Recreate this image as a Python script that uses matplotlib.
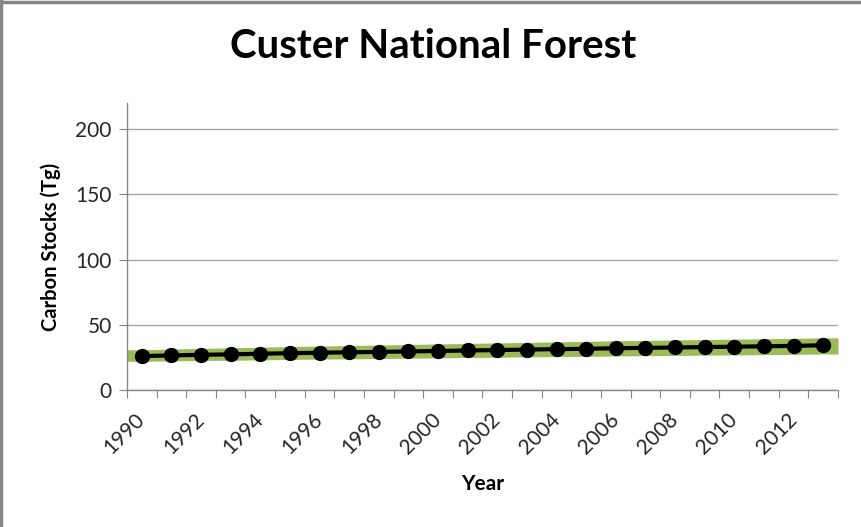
import matplotlib
matplotlib.use("Agg")
import matplotlib.pyplot as plt
from matplotlib.lines import Line2D

years = list(range(1990, 2014))
carbon = [26.0, 26.5, 27.0, 27.3, 27.8, 28.2, 28.6, 28.9, 29.2, 29.6, 29.9, 30.3,
          30.6, 31.0, 31.3, 31.6, 32.0, 32.3, 32.6, 32.9, 33.2, 33.5, 33.8, 34.3]
band_low = [22.0, 22.3, 22.6, 22.8, 23.1, 23.4, 23.7, 23.9, 24.1, 24.4, 24.6, 24.9,
            25.1, 25.4, 25.6, 25.8, 26.1, 26.3, 26.5, 26.7, 26.9, 27.1, 27.3, 27.6]
band_high = [30.8, 31.4, 31.9, 32.3, 32.8, 33.3, 33.7, 34.1, 34.5, 34.9, 35.3, 35.7,
             36.1, 36.5, 36.9, 37.3, 37.7, 38.0, 38.4, 38.7, 39.0, 39.3, 39.6, 40.0]
yticks = [0, 50, 100, 150, 200]

plt.rcParams['font.family'] = ['Lato', 'DejaVu Sans']

fig = plt.figure(figsize=(8.62, 5.27), dpi=100)
ax = fig.add_axes([127/862, 1-390/527, (838-127)/862, (390-103)/527])

n = len(years)
xs = list(range(n))
bx = [-0.5] + xs + [n - 0.5]
bl = [band_low[0]] + band_low + [band_low[-1]]
bh = [band_high[0]] + band_high + [band_high[-1]]
ax.fill_between(bx, bl, bh, color='#9BBB59', linewidth=0, zorder=2)

ax.plot(xs, carbon, color='black', linewidth=3, marker='o', markersize=10,
        markerfacecolor='black', markeredgecolor='black', zorder=3)

ax.set_xlim(-0.5, n - 0.5)
ax.set_ylim(0, 220)
ax.set_yticks(yticks)
ax.set_yticklabels([str(v) for v in yticks], fontsize=15, color='#262626')
ax.yaxis.grid(True, color='#A6A6A6', linewidth=1)
ax.set_axisbelow(True)

ax.set_xticks([i - 0.5 for i in range(n + 1)])
ax.set_xticklabels([])
ax.set_xticks(xs[::2], minor=True)
ax.set_xticklabels([str(y) for y in years[::2]], minor=True, rotation=45,
                   ha='right', va='center', rotation_mode='anchor', fontsize=15,
                   color='#262626')
ax.tick_params(axis='x', which='minor', length=0, pad=19)
ax.tick_params(axis='x', which='major', length=6, color='#868686', direction='out')
ax.tick_params(axis='y', length=6, color='#868686', direction='out', pad=5)

for s in ['top', 'right']:
    ax.spines[s].set_visible(False)
for s in ['left', 'bottom']:
    ax.spines[s].set_color('#868686')
    ax.spines[s].set_linewidth(1)

ax.set_ylabel('Carbon Stocks (Tg)', fontsize=14.5, fontweight='bold', labelpad=10)
ax.set_xlabel('Year', fontsize=15, fontweight='bold', labelpad=12)

fig.text(433/862, 1-47/527, 'Custer National Forest', fontsize=29, fontweight='bold',
         ha='center', va='center')

fig.add_artist(Line2D([0.0015, 0.0015], [0, 1], transform=fig.transFigure,
                      color='#868686', linewidth=2.5))
fig.add_artist(Line2D([0, 1], [0.997, 0.997], transform=fig.transFigure,
                      color='#868686', linewidth=2.5))

fig.savefig('out.png', dpi=100)
